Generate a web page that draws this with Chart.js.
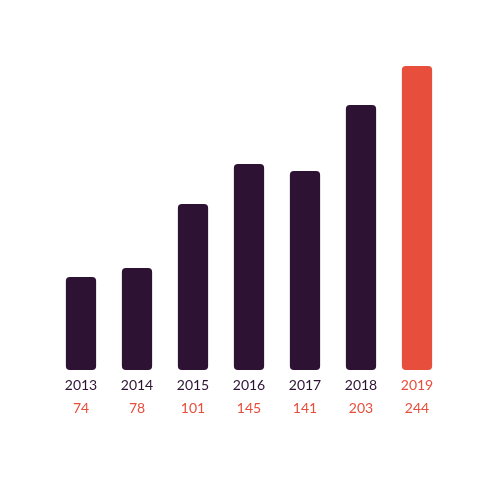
<!DOCTYPE html>
<html>
<head>
<meta charset="utf-8">
<script src="https://cdn.jsdelivr.net/npm/chart.js@4"></script>
<style>
  body { margin: 0; background: #fff; }
  #wrap { width: 500px; height: 500px; }
</style>
</head>
<body>
<div id="wrap"><canvas id="chart"></canvas></div>
<script>
const years = ["2013", "2014", "2015", "2016", "2017", "2018", "2019"]
const valueLabels = ["74", "78", "101", "145", "141", "203", "244"]
// bar heights as drawn in the picture (not proportional to the labels)
const barHeights = [93, 102, 166, 206, 199, 265, 304]

const dark = "#2e1233"
const red = "#e84e3c"
const colors = years.map((y, i) => i === years.length - 1 ? red : dark)

// draws the year and value rows under each bar
const labelRows = {
  id: "labelRows",
  afterDraw(chart) {
    const ctx = chart.ctx
    const x = chart.scales.x
    const bottom = chart.chartArea.bottom
    ctx.save()
    ctx.textAlign = "center"
    ctx.textBaseline = "middle"
    ctx.font = "14px Lato, sans-serif"
    years.forEach((year, i) => {
      const px = x.getPixelForValue(i)
      ctx.fillStyle = i === years.length - 1 ? red : dark
      ctx.fillText(year, px, bottom + 15)
      ctx.fillStyle = red
      ctx.fillText(valueLabels[i], px, bottom + 38)
    })
    ctx.restore()
  }
}

new Chart(document.getElementById("chart"), {
  type: "bar",
  data: {
    labels: years,
    datasets: [{
      data: barHeights,
      backgroundColor: colors,
      borderRadius: 4,
      borderSkipped: false,
      barPercentage: 0.54,
      categoryPercentage: 1
    }]
  },
  options: {
    responsive: true,
    maintainAspectRatio: false,
    animation: false,
    layout: { padding: { top: 50, bottom: 130, left: 53, right: 55 } },
    plugins: { legend: { display: false }, tooltip: { enabled: false } },
    scales: {
      x: { display: false },
      y: { display: false, min: 0, max: 320 }
    }
  },
  plugins: [labelRows]
})
</script>
</body>
</html>
